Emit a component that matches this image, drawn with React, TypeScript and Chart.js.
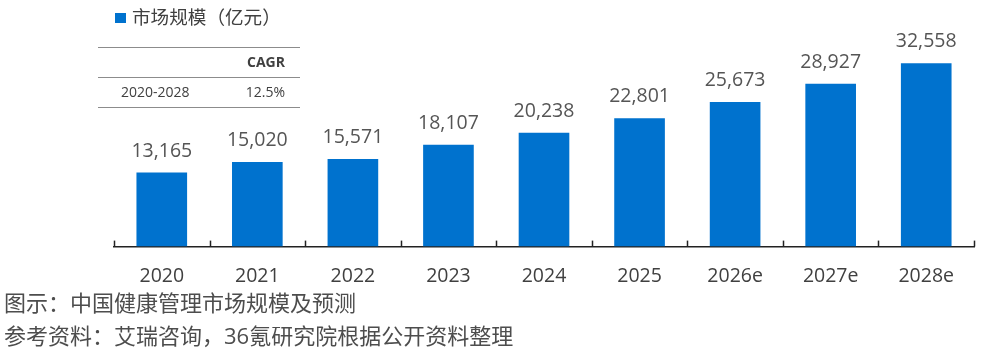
import React, { useEffect, useRef } from "react";
import { Chart, registerables } from "chart.js";

Chart.register(...registerables);

const categories = ["2020", "2021", "2022", "2023", "2024", "2025", "2026e", "2027e", "2028e"];
const marketSize = [13165, 15020, 15571, 18107, 20238, 22801, 25673, 28927, 32558];
const seriesLabel = "市场规模（亿元）";
const tableHeader = ["", "CAGR"];
const tableRow = ["2020-2028", "12.5%"];
const captionLines = [
  "图示：中国健康管理市场规模及预测",
  "参考资料：艾瑞咨询，36氪研究院根据公开资料整理",
];

const FONT = '"Open Sans", "Noto Sans CJK SC", "Noto Sans", sans-serif';
const BAR_COLOR = "#0072CE";

const decorPlugin = {
  id: "decor",
  afterDatasetsDraw(chart: any) {
    const ctx = chart.ctx;
    const meta = chart.getDatasetMeta(0);
    const xScale = chart.scales.x;
    const area = chart.chartArea;
    ctx.save();
    // value labels
    ctx.fillStyle = "#555555";
    ctx.font = `19.5px ${FONT}`;
    ctx.textAlign = "center";
    ctx.textBaseline = "alphabetic";
    meta.data.forEach((bar: any, i: number) => {
      const v = marketSize[i];
      ctx.fillText(v.toLocaleString("en-US"), bar.x, bar.y - 16);
    });
    // tick marks at category boundaries (pointing upward)
    ctx.strokeStyle = "#222222";
    ctx.lineWidth = 1.5;
    const step = xScale.getPixelForValue(1) - xScale.getPixelForValue(0);
    for (let i = 0; i <= categories.length; i++) {
      const x = Math.round(xScale.getPixelForValue(0) - step / 2 + i * step) + 0.5;
      ctx.beginPath();
      ctx.moveTo(x, area.bottom - 6);
      ctx.lineTo(x, area.bottom);
      ctx.stroke();
    }
    // legend
    ctx.fillStyle = BAR_COLOR;
    ctx.fillRect(115, 13, 11, 10);
    ctx.fillStyle = "#404040";
    ctx.font = `18.6px ${FONT}`;
    ctx.textAlign = "left";
    ctx.textBaseline = "middle";
    ctx.fillText(seriesLabel, 132, 19);
    // CAGR table
    ctx.strokeStyle = "#8c8c8c";
    ctx.lineWidth = 1.2;
    [47, 77, 107].forEach((y) => {
      ctx.beginPath();
      ctx.moveTo(98, y + 0.5);
      ctx.lineTo(300, y + 0.5);
      ctx.stroke();
    });
    ctx.fillStyle = "#404040";
    ctx.font = `bold 14px ${FONT}`;
    ctx.textAlign = "right";
    ctx.fillText(tableHeader[1], 285, 63);
    ctx.font = `14px ${FONT}`;
    ctx.textAlign = "left";
    ctx.fillText(tableRow[0], 121, 93);
    ctx.textAlign = "right";
    ctx.fillText(tableRow[1], 285, 93);
    // caption
    ctx.fillStyle = "#4d4d4d";
    ctx.font = `22px ${FONT}`;
    ctx.textAlign = "left";
    ctx.fillText(captionLines[0], 4, 305);
    ctx.fillText(captionLines[1], 4, 338);
    ctx.restore();
  },
};

export default function App() {
  const canvasRef = useRef<HTMLCanvasElement | null>(null);
  useEffect(() => {
    if (!canvasRef.current) return;
    const chart = new Chart(canvasRef.current, {
      type: "bar",
      data: {
        labels: categories,
        datasets: [
          {
            label: seriesLabel,
            data: marketSize,
            backgroundColor: BAR_COLOR,
            categoryPercentage: 1,
            barPercentage: 0.53,
          },
        ],
      },
      options: {
        animation: false,
        responsive: true,
        maintainAspectRatio: false,
        devicePixelRatio: 1,
        layout: { padding: { left: 114, right: 14, top: 44, bottom: 55 } },
        plugins: { legend: { display: false }, tooltip: { enabled: false } },
        scales: {
          x: {
            grid: { display: false, drawTicks: false },
            border: { display: true, color: "#222222", width: 1.5 },
            ticks: { color: "#404040", font: { size: 19.5, family: FONT }, padding: 18 },
          },
          y: { display: false, min: 0, max: 36000 },
        },
      },
      plugins: [decorPlugin],
    });
    return () => chart.destroy();
  }, []);
  return (
    <div style={{ position: "absolute", left: 0, top: 0, width: 988, height: 361, background: "#fff" }}>
      <canvas ref={canvasRef} />
    </div>
  );
}
